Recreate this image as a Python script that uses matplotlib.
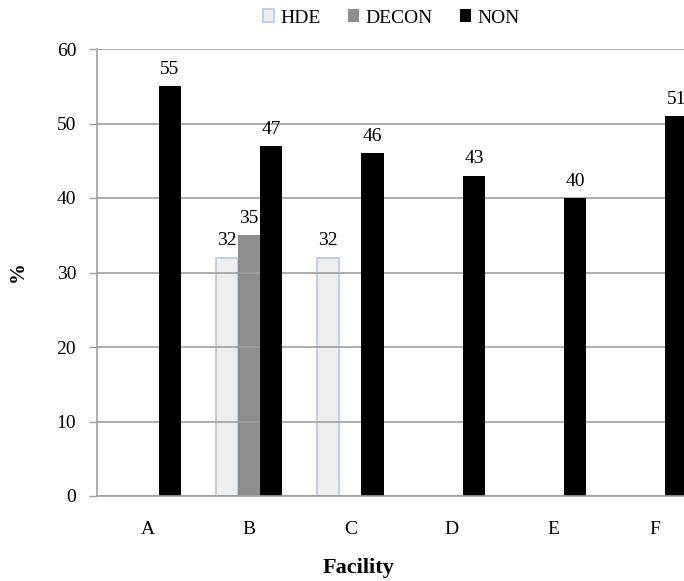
import numpy as np
import matplotlib
matplotlib.use("Agg")
import matplotlib.pyplot as plt

plt.rcParams['font.family'] = ['Liberation Serif', 'DejaVu Serif']

facilities = ['A', 'B', 'C', 'D', 'E', 'F']
hde = [0, 32, 32, 0, 0, 0]
decon = [0, 35, 0, 0, 0, 0]
non = [55, 47, 46, 43, 40, 51]

W, H = 684, 581
fig = plt.figure(figsize=(W / 100, H / 100), dpi=100)
# plot area runs past the right edge of the figure
ax = fig.add_axes([97 / W, 85 / H, 608 / W, 447 / H])

x = np.arange(len(facilities))
bw = 0.22

b_hde = ax.bar(x - bw, hde, bw, color='#eeeeee', edgecolor='#b4c8e8', linewidth=1.2,
               zorder=2, label='HDE')
b_dec = ax.bar(x, decon, bw, color='#8e8e8e', zorder=2, label='DECON')
b_non = ax.bar(x + bw, non, bw, color='black', zorder=4, label='NON')

for bars, vals in [(b_hde, hde), (b_dec, decon), (b_non, non)]:
    labels = [str(v) if v else '' for v in vals]
    ax.bar_label(bars, labels=labels, padding=6, fontsize=14)

ax.set_ylim(0, 60)
ax.set_yticks(range(0, 61, 10))
ax.set_xlim(-0.5, 5.5)
ax.set_xticks(x)
ax.set_xticklabels(facilities, fontsize=14)
ax.tick_params(axis='x', length=0, pad=18)
ax.tick_params(axis='y', labelsize=14, length=6, width=1, color='#a0a0a0', pad=9)

ax.yaxis.grid(True, color='#a0a0a0', linewidth=1.2, zorder=3)
ax.set_axisbelow(False)
for line in ax.get_ygridlines():
    line.set_zorder(3)
for side in ['top', 'right']:
    ax.spines[side].set_visible(False)
for side in ['left', 'bottom']:
    ax.spines[side].set_color('#a0a0a0')
    ax.spines[side].set_linewidth(1.2)
    ax.spines[side].set_zorder(5)

fig.text(18 / W, 1 - 272 / H, '%', rotation=90, fontsize=15, fontweight='bold',
         ha='center', va='center')
fig.text(359 / W, 1 - 568 / H, 'Facility', fontsize=16, fontweight='bold',
         ha='center', va='center')

fig.legend(handles=[b_hde, b_dec, b_non], loc='center', ncol=3,
           bbox_to_anchor=(391 / W, 1 - 18 / H), frameon=False, fontsize=14,
           handlelength=0.6, handleheight=0.6, handletextpad=0.3, columnspacing=1.4)

fig.savefig('out.png', dpi=100)
